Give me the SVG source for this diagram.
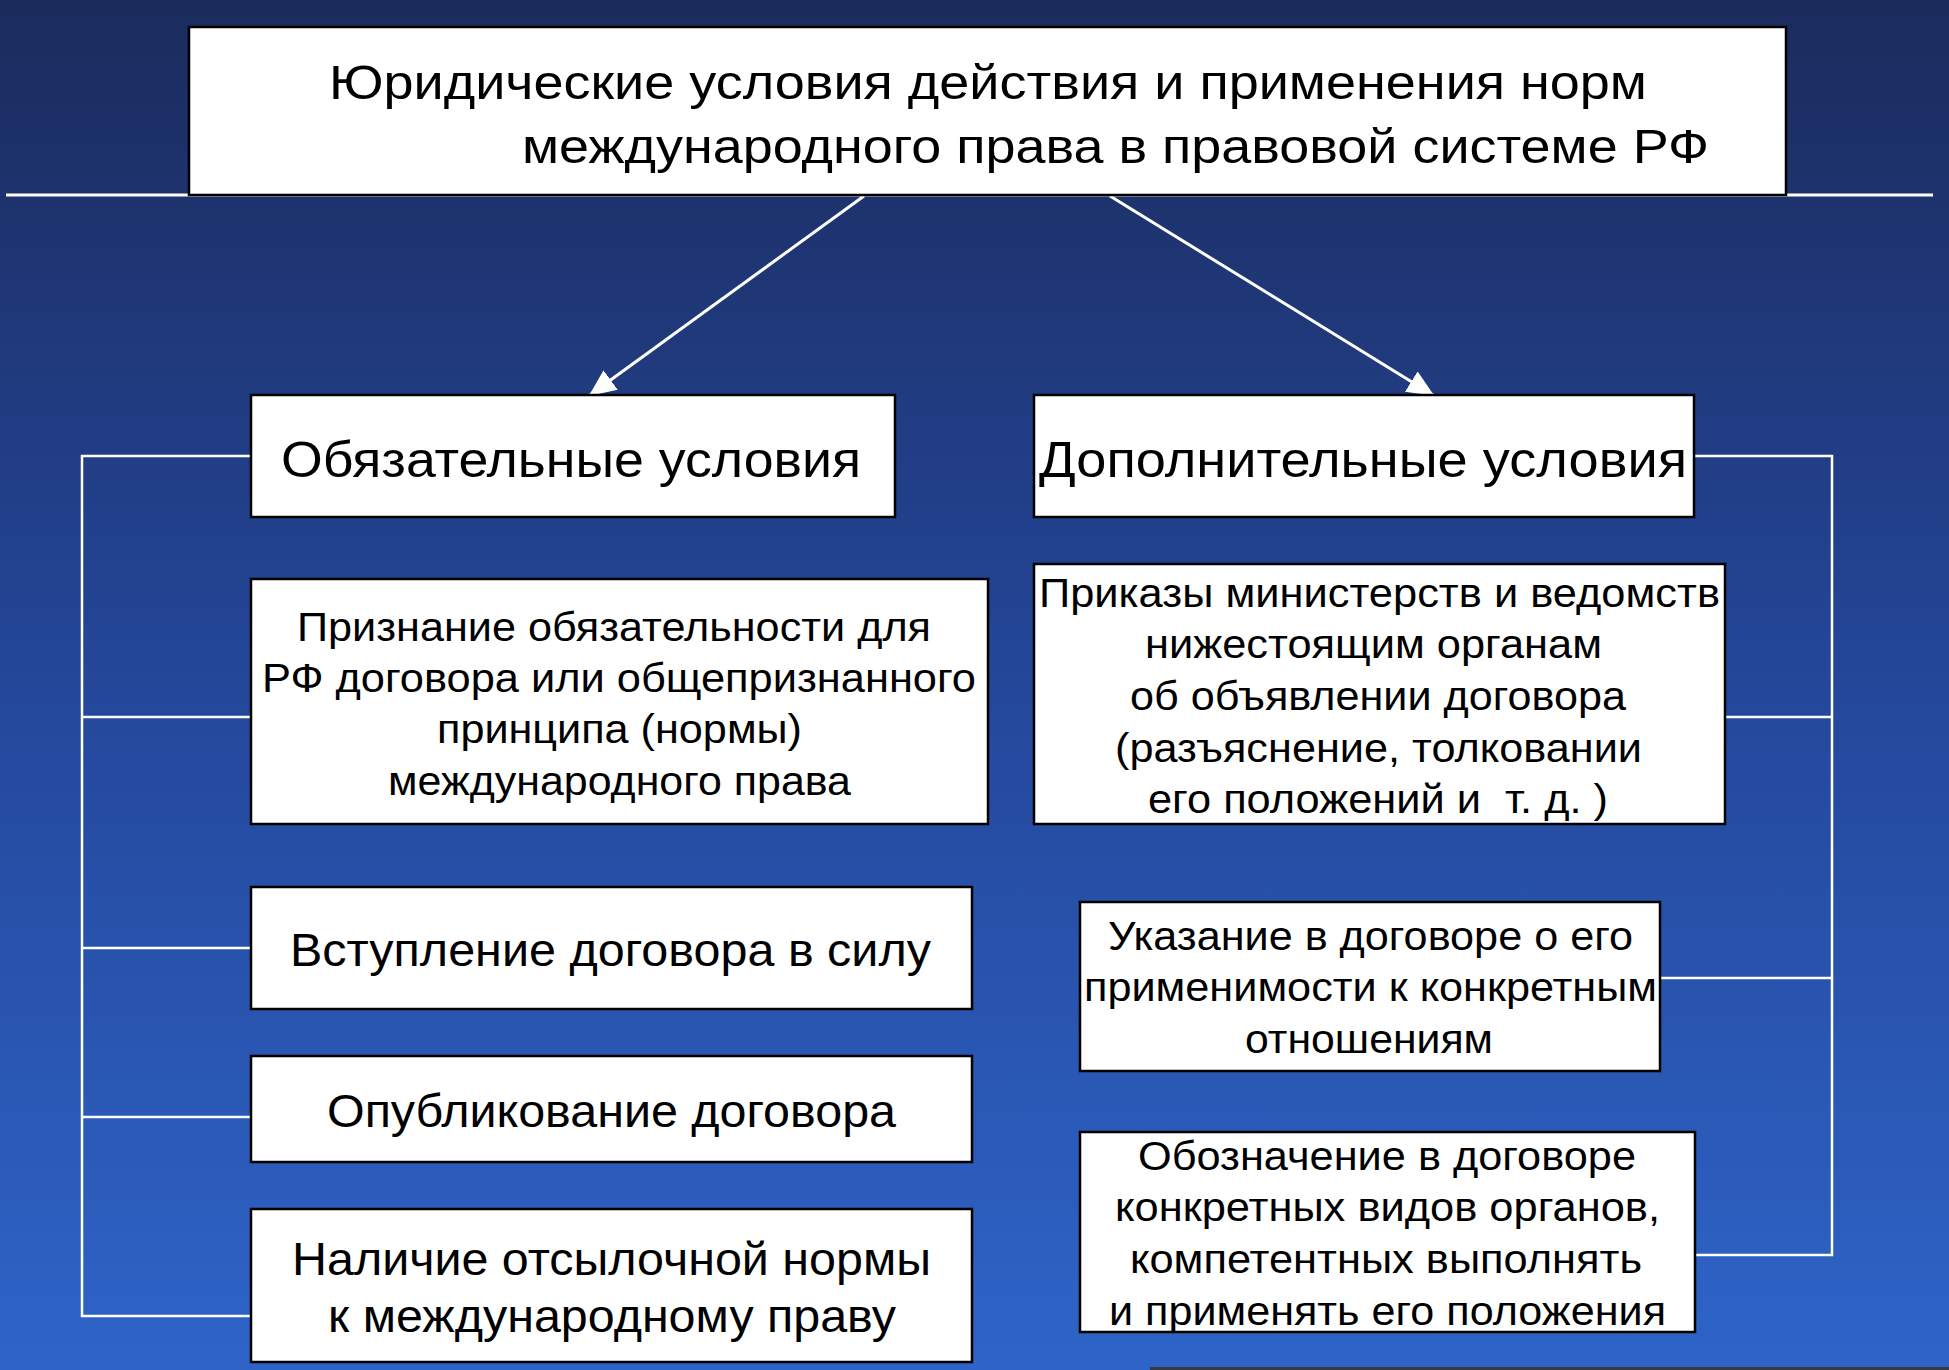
<svg xmlns="http://www.w3.org/2000/svg" width="1949" height="1370" viewBox="0 0 1949 1370">
<defs>
<linearGradient id="bg" x1="0" y1="0" x2="0" y2="1">
<stop offset="0" stop-color="#1b2b5c"/>
<stop offset="0.5" stop-color="#24479a"/>
<stop offset="1" stop-color="#2e64c8"/>
</linearGradient>
<marker id="ah" markerWidth="9" markerHeight="8" refX="8.5" refY="4" orient="auto" markerUnits="strokeWidth">
<path d="M0,0 L9,4 L0,8 Z" fill="#ffffff"/>
</marker>
<style>
.box{fill:#ffffff;stroke:#000000;stroke-width:2.5}
.t{font-family:"Liberation Sans",Arial,sans-serif;fill:#000000}
.ttl{font-size:49px}
.hd{font-size:50px}
.s{font-size:46px}
.m{font-size:41px}
.c{stroke:#ffffff;stroke-width:2.5;fill:none}
.a{stroke:#ffffff;stroke-width:3;fill:none}
</style>
</defs>
<rect x="0" y="0" width="1949" height="1370" fill="url(#bg)"/>
<rect x="1150" y="1367" width="799" height="3" fill="#3a3a3a"/>

<g id="connectors">
<line class="a" x1="6" y1="195" x2="1933" y2="195"/>
<line class="a" x1="864" y1="196" x2="590" y2="395" marker-end="url(#ah)"/>
<line class="a" x1="1110" y1="196" x2="1433" y2="395" marker-end="url(#ah)"/>
<polyline class="c" points="251,456 82,456 82,1316 251,1316"/>
<line class="c" x1="82" y1="717" x2="251" y2="717"/>
<line class="c" x1="82" y1="948" x2="251" y2="948"/>
<line class="c" x1="82" y1="1117" x2="251" y2="1117"/>
<polyline class="c" points="1694,456 1832,456 1832,1255 1695,1255"/>
<line class="c" x1="1725" y1="717" x2="1832" y2="717"/>
<line class="c" x1="1660" y1="978" x2="1832" y2="978"/>
</g>

<g id="title">
<rect class="box" x="189" y="27" width="1597" height="168"/>
<text class="t ttl" x="329" y="99" textLength="1318" lengthAdjust="spacingAndGlyphs">Юридические условия действия и применения норм</text>
<text class="t ttl" x="522" y="163" textLength="1187" lengthAdjust="spacingAndGlyphs">международного права в правовой системе РФ</text>
</g>

<g id="mandatory">
<rect class="box" x="251" y="395" width="644" height="122"/>
<text class="t hd" x="281" y="477" textLength="580" lengthAdjust="spacingAndGlyphs">Обязательные условия</text>
</g>

<g id="additional">
<rect class="box" x="1034" y="395" width="660" height="122"/>
<text class="t hd" x="1039" y="477" textLength="648" lengthAdjust="spacingAndGlyphs">Дополнительные условия</text>
</g>

<g id="recognition">
<rect class="box" x="251" y="579" width="737" height="245"/>
<text class="t m" x="297" y="641" textLength="634" lengthAdjust="spacingAndGlyphs">Признание обязательности для</text>
<text class="t m" x="262" y="692" textLength="714" lengthAdjust="spacingAndGlyphs">РФ договора или общепризнанного</text>
<text class="t m" x="437" y="743" textLength="365" lengthAdjust="spacingAndGlyphs">принципа (нормы)</text>
<text class="t m" x="388" y="795" textLength="463" lengthAdjust="spacingAndGlyphs">международного права</text>
</g>

<g id="orders">
<rect class="box" x="1034" y="564" width="691" height="260"/>
<text class="t m" x="1039" y="607" textLength="681" lengthAdjust="spacingAndGlyphs">Приказы министерств и ведомств</text>
<text class="t m" x="1145" y="658" textLength="457" lengthAdjust="spacingAndGlyphs">нижестоящим органам</text>
<text class="t m" x="1130" y="710" textLength="496" lengthAdjust="spacingAndGlyphs">об объявлении договора</text>
<text class="t m" x="1115" y="762" textLength="527" lengthAdjust="spacingAndGlyphs">(разъяснение, толковании</text>
<text class="t m" x="1148" y="813" textLength="460" lengthAdjust="spacingAndGlyphs" xml:space="preserve">его положений и  т. д. )</text>
</g>

<g id="entry">
<rect class="box" x="251" y="887" width="721" height="122"/>
<text class="t s" x="290" y="966" textLength="641" lengthAdjust="spacingAndGlyphs">Вступление договора в силу</text>
</g>

<g id="publication">
<rect class="box" x="251" y="1056" width="721" height="106"/>
<text class="t s" x="327" y="1127" textLength="569" lengthAdjust="spacingAndGlyphs">Опубликование договора</text>
</g>

<g id="reference">
<rect class="box" x="251" y="1209" width="721" height="153"/>
<text class="t s" x="292" y="1275" textLength="639" lengthAdjust="spacingAndGlyphs">Наличие отсылочной нормы</text>
<text class="t s" x="328" y="1332" textLength="568" lengthAdjust="spacingAndGlyphs">к международному праву</text>
</g>

<g id="indication">
<rect class="box" x="1080" y="902" width="580" height="169"/>
<text class="t m" x="1108" y="950" textLength="525" lengthAdjust="spacingAndGlyphs">Указание в договоре о его</text>
<text class="t m" x="1084" y="1001" textLength="573" lengthAdjust="spacingAndGlyphs">применимости к конкретным</text>
<text class="t m" x="1245" y="1053" textLength="248" lengthAdjust="spacingAndGlyphs">отношениям</text>
</g>

<g id="designation">
<rect class="box" x="1080" y="1132" width="615" height="200"/>
<text class="t m" x="1138" y="1170" textLength="498" lengthAdjust="spacingAndGlyphs">Обозначение в договоре</text>
<text class="t m" x="1115" y="1221" textLength="545" lengthAdjust="spacingAndGlyphs">конкретных видов органов,</text>
<text class="t m" x="1130" y="1273" textLength="512" lengthAdjust="spacingAndGlyphs">компетентных выполнять</text>
<text class="t m" x="1109" y="1325" textLength="557" lengthAdjust="spacingAndGlyphs">и применять его положения</text>
</g>
</svg>
